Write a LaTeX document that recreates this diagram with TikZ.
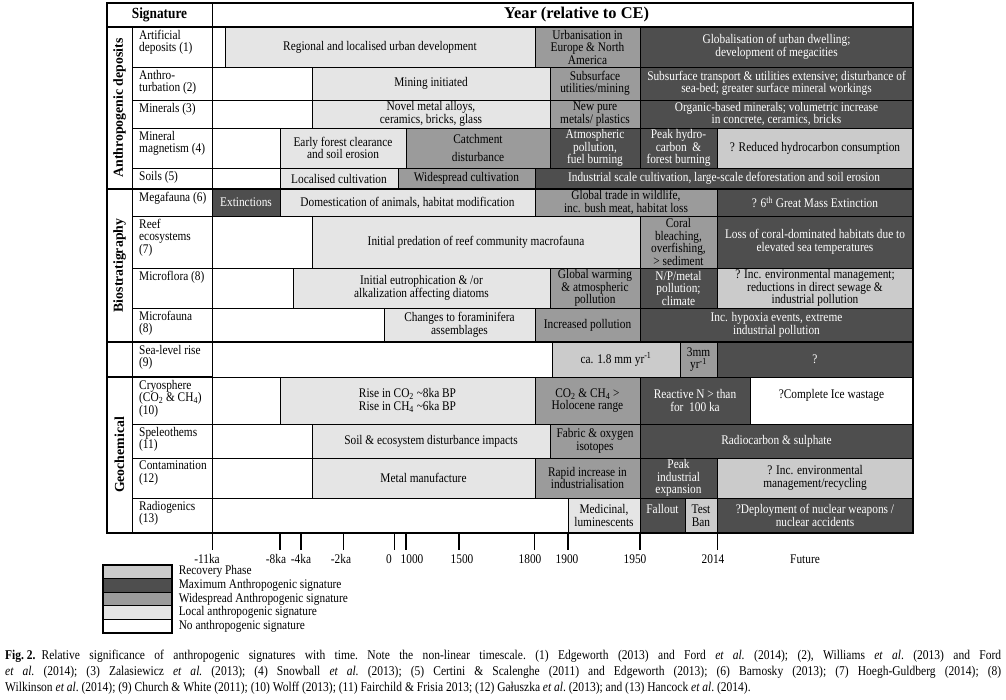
\documentclass[tikz,border=0pt]{standalone}
\usepackage{fontspec}
\setmainfont{Liberation Serif}[FakeStretch=0.86]
\newfontfamily\labelfont{Liberation Serif}
\usetikzlibrary{positioning}

\definecolor{recovcol}{HTML}{CBCBCB}
\definecolor{maxcol}{HTML}{4E4E4E}
\definecolor{widecol}{HTML}{9B9B9B}
\definecolor{localcol}{HTML}{E5E5E5}

\newcommand{\cellfont}{\fontsize{13.2}{12.5}\selectfont}

\tikzset{
  cell/.style={draw=black,line width=0.9pt,inner sep=0pt,outer sep=0pt,align=center,font=\cellfont},
  nosig/.style={cell,fill=white},
  localsig/.style={cell,fill=localcol},
  widesig/.style={cell,fill=widecol},
  maxsig/.style={cell,fill=maxcol,text=white},
  recovsig/.style={cell,fill=recovcol},
  rowlabel/.style={inner sep=0pt,align=left,font=\cellfont},
  grouplabel/.style={rotate=90,inner sep=0pt,font=\labelfont\bfseries\fontsize{13.8}{15}\selectfont},
  grpline/.style={line width=2pt},
  ticklabel/.style={inner sep=0pt,font=\cellfont},
  keybox/.style={draw=black,line width=1.2pt,inner sep=0pt,minimum width=69pt,minimum height=13.6pt},
  keytext/.style={inner sep=0pt,font=\cellfont},
}

\newcommand{\sigcell}[7]{%
  \pgfmathsetmacro{\cellw}{#4-#3}%
  \pgfmathsetmacro{\cellh}{#6-#5}%
  \node[#2,minimum width=\cellw pt,minimum height=\cellh pt] (#1) at ({(#3+#4)/2},{-(#5+#6)/2}) {#7};}

\begin{document}
\begin{tikzpicture}[x=1pt,y=1pt]
\useasboundingbox (0,0) rectangle (1006,-700);

\sigcell{sighead}{nosig,font=\fontsize{15.5}{16}\selectfont\bfseries}{107}{212}{3}{27}{Signature}
\sigcell{yearhead}{nosig,font=\labelfont\bfseries\fontsize{16.4}{17}\selectfont}{212}{913}{3}{27}{\hspace*{28pt}Year (relative to CE)}

\sigcell{anthgrp}{nosig}{107}{132}{27}{189}{}
\sigcell{biogrp}{nosig}{107}{132}{189}{342}{}
\sigcell{slgrp}{nosig}{107}{132}{342}{377}{}
\sigcell{geogrp}{nosig}{107}{132}{377}{533}{}
\node[grouplabel] (anthlab) at (anthgrp) {Anthropogenic deposits};
\node[grouplabel] (biolab) at (biogrp) {Biostratigraphy};
\node[grouplabel] (geolab) at (geogrp) {Geochemical};

\sigcell{sig1}{nosig}{132}{212}{27}{67}{}
\sigcell{sig2}{nosig}{132}{212}{67}{100}{}
\sigcell{sig3}{nosig}{132}{212}{100}{128}{}
\sigcell{sig4}{nosig}{132}{212}{128}{168}{}
\sigcell{sig5}{nosig}{132}{212}{168}{189}{}
\sigcell{sig6}{nosig}{132}{212}{189}{216}{}
\sigcell{sig7}{nosig}{132}{212}{216}{268}{}
\sigcell{sig8}{nosig}{132}{212}{268}{308}{}
\sigcell{sig9}{nosig}{132}{212}{308}{342}{}
\sigcell{sig10}{nosig}{132}{212}{342}{377}{}
\sigcell{sig11}{nosig}{132}{212}{377}{424}{}
\sigcell{sig12}{nosig}{132}{212}{424}{458}{}
\sigcell{sig13}{nosig}{132}{212}{458}{498}{}
\sigcell{sig14}{nosig}{132}{212}{498}{533}{}

\node[rowlabel, below right=3pt and 7pt of sig1.north west] (lab1) {Artificial\\deposits (1)};
\node[rowlabel, below right=3pt and 7pt of sig2.north west] (lab2) {Anthro-\\turbation (2)};
\node[rowlabel, below right=3pt and 7pt of sig3.north west] (lab3) {Minerals (3)};
\node[rowlabel, below right=3pt and 7pt of sig4.north west] (lab4) {Mineral\\magnetism (4)};
\node[rowlabel, below right=3pt and 7pt of sig5.north west] (lab5) {Soils (5)};
\node[rowlabel, below right=3pt and 7pt of sig6.north west] (lab6) {Megafauna (6)};
\node[rowlabel, below right=3pt and 7pt of sig7.north west] (lab7) {Reef\\ecosystems\\(7)};
\node[rowlabel, below right=3pt and 7pt of sig8.north west] (lab8) {Microflora (8)};
\node[rowlabel, below right=3pt and 7pt of sig9.north west] (lab9) {Microfauna\\(8)};
\node[rowlabel, below right=3pt and 7pt of sig10.north west] (lab10) {Sea-level rise\\(9)};
\node[rowlabel, below right=3pt and 7pt of sig11.north west] (lab11) {Cryosphere\\(CO\textsubscript{2} \& CH\textsubscript{4})\\(10)};
\node[rowlabel, below right=3pt and 7pt of sig12.north west] (lab12) {Speleothems\\(11)};
\node[rowlabel, below right=3pt and 7pt of sig13.north west] (lab13) {Contamination\\(12)};
\node[rowlabel, below right=3pt and 7pt of sig14.north west] (lab14) {Radiogenics\\(13)};

\sigcell{ad0}{nosig}{212}{225}{27}{67}{}
\sigcell{ad1}{localsig}{225}{535}{27}{67}{Regional and localised urban development}
\sigcell{ad2}{widesig}{535}{640}{27}{67}{Urbanisation in\\Europe \& North\\America}
\sigcell{ad3}{maxsig}{640}{913}{27}{67}{Globalisation of urban dwelling;\\development of megacities}

\sigcell{at0}{nosig}{212}{312}{67}{100}{}
\sigcell{at1}{localsig}{312}{550}{67}{100}{Mining initiated}
\sigcell{at2}{widesig}{550}{640}{67}{100}{Subsurface\\utilities/mining}
\sigcell{at3}{maxsig}{640}{913}{67}{100}{Subsurface transport \& utilities extensive; disturbance of\\sea-bed; greater surface mineral workings}

\sigcell{mi0}{nosig}{212}{312}{100}{128}{}
\sigcell{mi1}{localsig}{312}{550}{100}{128}{Novel metal alloys,\\ceramics, bricks, glass}
\sigcell{mi2}{widesig}{550}{640}{100}{128}{New pure\\metals/ plastics}
\sigcell{mi3}{maxsig}{640}{913}{100}{128}{Organic-based minerals; volumetric increase\\in concrete, ceramics, bricks}

\sigcell{mm0}{nosig}{212}{280}{128}{168}{}
\sigcell{mm1}{localsig}{280}{406}{128}{168}{Early forest clearance\\and soil erosion}
\sigcell{mm2}{widesig}{406}{550}{128}{168}{Catchment\\[5pt]disturbance}
\sigcell{mm3}{maxsig}{550}{640}{128}{168}{Atmospheric\\pollution,\\fuel burning}
\sigcell{mm4}{maxsig}{640}{717}{128}{168}{Peak hydro-\\carbon \ \&\\forest burning}
\sigcell{mm5}{recovsig}{717}{913}{128}{168}{? Reduced hydrocarbon consumption}

\sigcell{so0}{nosig}{212}{280}{168}{189}{}
\sigcell{so1}{localsig}{280}{398}{168}{189}{Localised cultivation}
\sigcell{so2}{widesig}{398}{535}{168}{189}{Widespread cultivation}
\sigcell{so3}{maxsig}{535}{913}{168}{189}{Industrial scale cultivation, large-scale deforestation and soil erosion}

\sigcell{mf0}{maxsig}{212}{280}{189}{216}{Extinctions}
\sigcell{mf1}{localsig}{280}{535}{189}{216}{Domestication of animals, habitat modification}
\sigcell{mf2}{widesig}{535}{717}{189}{216}{Global trade in wildlife,\\inc. bush meat, habitat loss}
\sigcell{mf3}{maxsig}{717}{913}{189}{216}{? 6\textsuperscript{th} Great Mass Extinction}

\sigcell{re0}{nosig}{212}{312}{216}{268}{}
\sigcell{re1}{localsig}{312}{640}{216}{268}{Initial predation of reef community macrofauna}
\sigcell{re2}{widesig}{640}{717}{216}{268}{Coral\\bleaching,\\overfishing,\\> sediment}
\sigcell{re3}{maxsig}{717}{913}{216}{268}{Loss of coral-dominated habitats due to\\elevated sea temperatures}

\sigcell{fl0}{nosig}{212}{293}{268}{308}{}
\sigcell{fl1}{localsig}{293}{550}{268}{308}{Initial eutrophication \& /or\\alkalization affecting diatoms}
\sigcell{fl2}{widesig}{550}{640}{268}{308}{Global warming\\\& atmospheric\\pollution}
\sigcell{fl3}{maxsig}{640}{717}{268}{308}{N/P/metal\\pollution;\\climate}
\sigcell{fl4}{recovsig}{717}{913}{268}{308}{? Inc. environmental management;\\reductions in direct sewage \&\\industrial pollution}

\sigcell{fa0}{nosig}{212}{384}{308}{342}{}
\sigcell{fa1}{localsig}{384}{535}{308}{342}{Changes to foraminifera\\assemblages}
\sigcell{fa2}{widesig}{535}{640}{308}{342}{Increased pollution}
\sigcell{fa3}{maxsig}{640}{913}{308}{342}{Inc. hypoxia events, extreme\\industrial pollution}

\sigcell{sl0}{nosig}{212}{552}{342}{377}{}
\sigcell{sl1}{recovsig}{552}{680}{342}{377}{ca. 1.8 mm yr\textsuperscript{-1}}
\sigcell{sl2}{widesig}{680}{717}{342}{377}{3mm\\yr\textsuperscript{-1}}
\sigcell{sl3}{maxsig}{717}{913}{342}{377}{?}

\sigcell{cr0}{nosig}{212}{280}{377}{424}{}
\sigcell{cr1}{localsig}{280}{535}{377}{424}{Rise in CO\textsubscript{2} \textasciitilde8ka BP\\Rise in CH\textsubscript{4} \textasciitilde6ka BP}
\sigcell{cr2}{widesig}{535}{640}{377}{424}{CO\textsubscript{2} \& CH\textsubscript{4} >\\Holocene range}
\sigcell{cr3}{maxsig}{640}{750}{377}{424}{Reactive N > than\\for \ 100 ka}
\sigcell{cr4}{nosig}{750}{913}{377}{424}{?Complete Ice wastage\\\mbox{}}

\sigcell{sp0}{nosig}{212}{312}{424}{458}{}
\sigcell{sp1}{localsig}{312}{550}{424}{458}{Soil \& ecosystem disturbance impacts}
\sigcell{sp2}{widesig}{550}{640}{424}{458}{Fabric \& oxygen\\isotopes}
\sigcell{sp3}{maxsig}{640}{913}{424}{458}{Radiocarbon \& sulphate}

\sigcell{co0}{nosig}{212}{312}{458}{498}{}
\sigcell{co1}{localsig}{312}{535}{458}{498}{Metal manufacture}
\sigcell{co2}{widesig}{535}{640}{458}{498}{Rapid increase in\\industrialisation}
\sigcell{co3}{maxsig}{640}{717}{458}{498}{Peak\\industrial\\expansion}
\sigcell{co4}{recovsig}{717}{913}{458}{498}{? Inc. environmental\\management/recycling}

\sigcell{ra0}{nosig}{212}{568}{498}{533}{}
\sigcell{ra1}{localsig}{568}{640}{498}{533}{Medicinal,\\luminescents}
\sigcell{ra2}{maxsig}{640}{685}{498}{533}{Fallout\\\mbox{}}
\sigcell{ra3}{recovsig}{685}{717}{498}{533}{Test\\Ban}
\sigcell{ra4}{maxsig}{717}{913}{498}{533}{?Deployment of nuclear weapons /\\nuclear accidents}

\draw[grpline] (sighead.north west) rectangle (ra4.south east);
\draw[grpline] (sighead.south west) -- (yearhead.south east);
\draw[grpline] (anthgrp.south west) -- (so3.south east);
\draw[grpline] (biogrp.south west) -- (fa3.south east);
\draw[grpline] (slgrp.south west) -- (sig10.south east);

\foreach \tx/\tw in {212/0.8, 280/1.6, 301/1.6, 343/0.8, 394/0.8, 406/1.6, 459/1.6, 534/0.8, 568/1.6, 640/1.6, 717/0.8}
  \draw[line width=\tw pt] (\tx,-533) -- (\tx,-550);
\foreach \lx/\ltxt [count=\i] in {207/-11ka, 276/-8ka, 301/-4ka, 341/-2ka, 389/0, 412/1000, 462/1500, 530/1800, 567/1900, 635/1950, 713/2014, 805/Future}
  \node[ticklabel] (year\i) at (\lx,-559) {\ltxt};

\foreach \col/\txt [count=\i] in {recovcol/Recovery Phase, maxcol/Maximum Anthropogenic signature, widecol/Widespread Anthropogenic signature, localcol/Local anthropogenic signature, white/No anthropogenic signature}{
  \node[keybox, fill=\col] (key\i) at (137.5,{-558.2-13.6*\i}) {};
  \node[keytext, right=6pt of key\i] (keytext\i) {\txt};
}

\node[anchor=north west, inner sep=0pt, text width=996pt, align=justify, font=\fontsize{13.4}{16}\selectfont\frenchspacing] (caption) at (5,-650) {\mbox{\textbf{Fig. 2.}}\hspace{6pt}Relative significance of anthropogenic signatures with time. Note the non-linear timescale. (1) Edgeworth (2013) and Ford \textit{et al.} (2014); (2), Williams \textit{et al}. (2013) and Ford\linebreak \textit{et al.} (2014); (3) Zalasiewicz \textit{et al.} (2013); (4) Snowball \textit{et al.} (2013); (5) Certini \& Scalenghe (2011) and Edgeworth (2013); (6) Barnosky (2013); (7) Hoegh-Guldberg (2014); (8)\linebreak Wilkinson \textit{et al}. (2014); (9) Church \& White (2011); (10) Wolff (2013); (11) Fairchild \& Frisia 2013; (12) Gałuszka \textit{et al}. (2013); and (13) Hancock \textit{et al}. (2014).};
\end{tikzpicture}
\end{document}
